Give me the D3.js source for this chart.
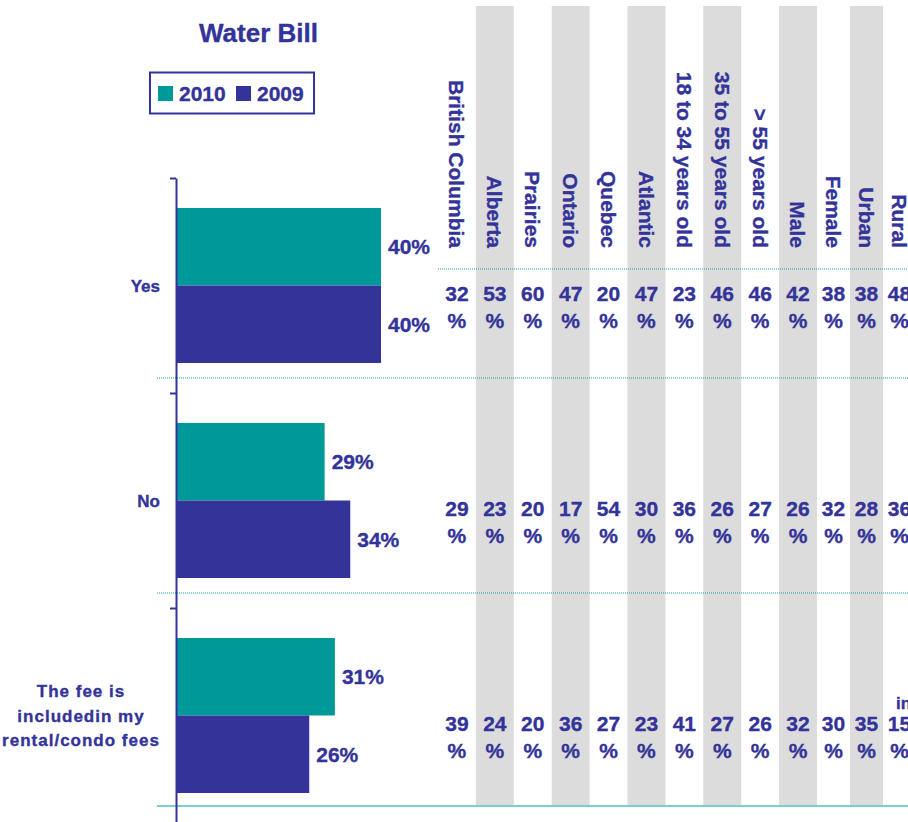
<!DOCTYPE html>
<html>
<head>
<meta charset="utf-8">
<script src="https://cdn.jsdelivr.net/npm/d3@7"></script>
<style>
  html, body { margin: 0; padding: 0; background: #fff; }
  svg { display: block; font-family: "Liberation Sans", Arial, sans-serif; font-weight: bold; }
  svg text { stroke: #333399; stroke-width: 0.35px; }
</style>
</head>
<body>
<div id="chart"></div>
<script>
// ---- data ----
const title = "Water Bill";
const categories = ["Yes", "No", "The fee is includedin my rental/condo fees"];
const categoryLines = [["Yes"], ["No"], ["The fee is", "includedin my", "rental/condo fees"]];
const seriesNames = ["2010", "2009"];
const values2010 = [40, 29, 31];
const values2009 = [40, 34, 26];
const breakdownColumns = ["British Columbia", "Alberta", "Prairies", "Ontario", "Quebec", "Atlantic",
  "18 to 34 years old", "35 to 55 years old", "> 55 years old", "Male", "Female", "Urban", "Rural"];
const breakdownYes = [32, 53, 60, 47, 20, 47, 23, 46, 46, 42, 38, 38, 48];
const breakdownNo = [29, 23, 20, 17, 54, 30, 36, 26, 27, 26, 32, 28, 36];
const breakdownFee = [39, 24, 20, 36, 27, 23, 41, 27, 26, 32, 30, 35, 15];

// ---- styles ----
const W = 908, H = 822;
const navy = "#333399", teal = "#009999";
const colors = { "2010": teal, "2009": navy };

const svg = d3.select("#chart").append("svg").attr("width", W).attr("height", H);

// scales
const x = d3.scaleLinear().domain([0, 100]).range([176, 176 + 512.5]);
const y = d3.scaleBand().domain(categories).range([178, 823]);
const ySub = d3.scaleBand().domain(seriesNames).range([30, y.bandwidth() - 30]);
const colA = d3.scaleBand().domain(breakdownColumns.slice(0, 10)).range([438, 817]);
const colB = d3.scaleBand().domain(breakdownColumns.slice(10)).range([817, 916]);
const colX = c => (colA.domain().includes(c) ? colA(c) : colB(c));
const colW = c => (colA.domain().includes(c) ? colA.bandwidth() : colB.bandwidth());

// grey stripes
svg.append("g").selectAll("rect")
  .data(breakdownColumns.filter((c, i) => i % 2 === 1))
  .join("rect")
  .attr("x", d => colX(d)).attr("width", d => colW(d))
  .attr("y", 6).attr("height", 799)
  .attr("fill", "#dcdcdc");

// separators
const dotColor = "#1f9e9e";
svg.append("line").attr("x1", 438).attr("x2", W).attr("y1", 269).attr("y2", 269)
  .attr("stroke", dotColor).attr("stroke-width", 1).attr("stroke-dasharray", "1,1");
categories.slice(1).forEach(c => {
  svg.append("line").attr("x1", 157).attr("x2", W).attr("y1", y(c) - 15).attr("y2", y(c) - 15)
    .attr("stroke", dotColor).attr("stroke-width", 1).attr("stroke-dasharray", "1,1");
});
svg.append("line").attr("x1", 157).attr("x2", W).attr("y1", 806).attr("y2", 806)
  .attr("stroke", "#80cccc").attr("stroke-width", 2);

// title
svg.append("text").attr("x", 258.5).attr("y", 42).attr("text-anchor", "middle")
  .attr("font-size", 26).attr("fill", navy).text(title);

// legend
const lg = svg.append("g");
lg.append("rect").attr("x", 150).attr("y", 72.5).attr("width", 164).attr("height", 41)
  .attr("fill", "none").attr("stroke", navy).attr("stroke-width", 2);
const legendX = [158, 236];
seriesNames.forEach((s, i) => {
  lg.append("rect").attr("x", legendX[i]).attr("y", 86).attr("width", 15).attr("height", 15).attr("fill", colors[s]);
  lg.append("text").attr("x", legendX[i] + 21).attr("y", 100.5).attr("font-size", 21).attr("fill", navy).text(s);
});

// bars
const barData = [];
categories.forEach((c, i) => {
  barData.push({ cat: c, s: "2010", v: values2010[i] });
  barData.push({ cat: c, s: "2009", v: values2009[i] });
});
svg.append("g").selectAll("rect").data(barData).join("rect")
  .attr("x", x(0)).attr("width", d => x(d.v) - x(0))
  .attr("y", d => y(d.cat) + ySub(d.s)).attr("height", ySub.bandwidth())
  .attr("fill", d => colors[d.s]);
svg.append("g").selectAll("text").data(barData).join("text")
  .attr("x", d => x(d.v) + 7)
  .attr("y", d => y(d.cat) + ySub(d.s) + ySub.bandwidth() / 2)
  .attr("dy", "0.36em")
  .attr("font-size", 21).attr("fill", navy)
  .text(d => d.v + "%");

// axis
const axisScale = d3.scaleLinear().domain([0, categories.length]).range([y.range()[0], y.range()[1]]);
const axis = svg.append("g").attr("transform", "translate(176,0)")
  .call(d3.axisLeft(axisScale).ticks(categories.length).tickSize(6).tickSizeOuter(0).tickFormat(""));
axis.selectAll("path, line").attr("stroke", navy).attr("stroke-width", 2);

// category labels
categories.forEach((c, i) => {
  const lines = categoryLines[i];
  const cy = y(c) + y.bandwidth() / 2;
  const multi = lines.length > 1;
  const t = svg.append("text")
    .attr("text-anchor", multi ? "middle" : "end")
    .attr("font-size", 17).attr("fill", navy)
    .attr("letter-spacing", multi ? 1 : 0);
  const lh = 24.5;
  lines.forEach((ln, j) => {
    t.append("tspan")
      .attr("x", multi ? 81 : 160)
      .attr("y", cy + (j - (lines.length - 1) / 2) * lh)
      .attr("dy", "0.36em")
      .text(ln);
  });
});

// column headers (rotated)
svg.append("g").selectAll("text").data(breakdownColumns).join("text")
  .attr("transform", d => `translate(${colX(d) + colW(d) / 2},248) rotate(90)`)
  .attr("text-anchor", "end").attr("dy", "0.36em")
  .attr("font-size", 21).attr("fill", navy)
  .text(d => d);

// breakdown values
[breakdownYes, breakdownNo, breakdownFee].forEach((arr, r) => {
  const cy = y(categories[r]) + y.bandwidth() / 2;
  const g = svg.append("g");
  g.selectAll("text.n").data(breakdownColumns).join("text")
    .attr("x", d => colX(d) + colW(d) / 2).attr("y", cy + 15)
    .attr("text-anchor", "middle").attr("font-size", 21).attr("fill", navy)
    .text((d, i) => arr[i]);
  g.selectAll("text.p").data(breakdownColumns).join("text")
    .attr("x", d => colX(d) + colW(d) / 2).attr("y", cy + 42)
    .attr("text-anchor", "middle").attr("font-size", 21).attr("fill", navy)
    .text("%");
});

// clipped overflow text at the right edge
svg.append("text").attr("x", 896).attr("y", 709).attr("font-size", 17).attr("fill", navy).text("in");
</script>
</body>
</html>
